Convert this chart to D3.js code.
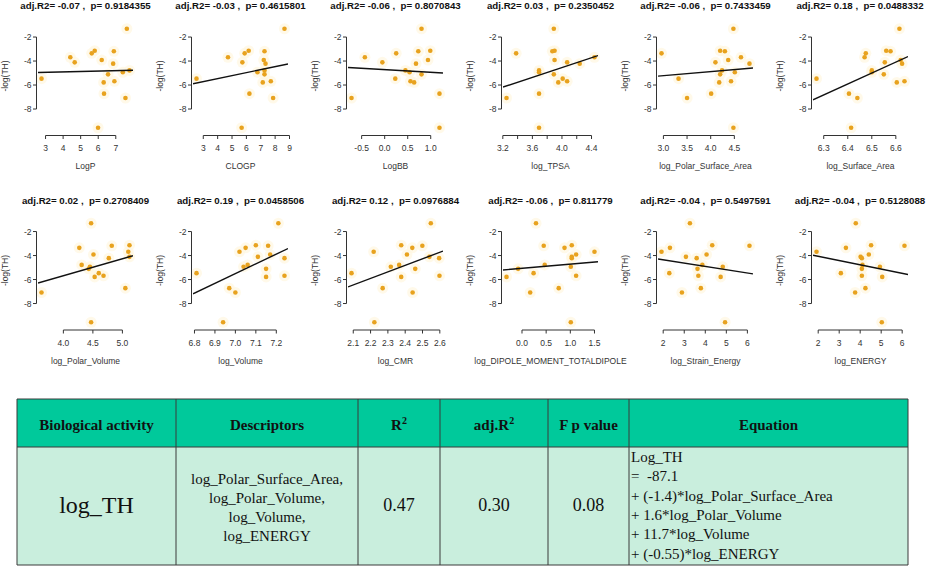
<!DOCTYPE html>
<html><head><meta charset="utf-8">
<script src="https://cdn.jsdelivr.net/npm/d3@7"></script>
<style>body{margin:0;background:#fff;} svg{display:block;}</style>
</head><body>
<script>
// ---------------- DATA ----------------
const logTH = [-1.31,-3.14,-3.19,-3.36,-3.69,-3.92,-4.11,-4.22,-4.78,-4.94,-5.11,-5.47,-5.69,-5.78,-6.72,-7.08,-9.56];
const LogP = [7.63,5.80,6.89,5.63,4.41,6.20,4.66,6.85,7.78,7.40,6.56,2.77,6.92,6.31,6.33,7.55,5.99];
const CLOGP = [8.65,6.16,7.26,5.88,4.72,7.21,5.72,7.33,7.26,6.77,7.26,2.53,7.70,7.14,6.21,7.86,5.67];
const LogBB = [0.80,0.99,0.73,0.25,-0.43,0.94,-0.05,0.68,0.45,0.54,0.80,0.23,0.56,0.64,1.19,-0.72,1.19];
const log_TPSA = [3.89,3.90,3.87,3.38,4.44,3.90,4.07,4.24,3.69,3.69,3.89,4.01,4.07,3.95,3.69,3.25,3.69];
const log_PSA = [4.48,4.20,4.30,2.96,4.64,4.37,4.10,4.82,4.24,4.51,4.20,3.32,4.43,4.18,4.01,3.50,4.48];
const log_SA = [6.615,6.56,6.578,6.475,6.47,6.62,6.554,6.626,6.50,6.50,6.55,6.27,6.636,6.604,6.405,6.44,6.414];
const log_PV = [4.47,5.12,4.82,4.27,5.10,4.51,5.12,4.77,4.31,4.45,4.43,4.60,4.68,4.53,5.05,3.63,4.47];
const log_Vol = [7.21,7.10,7.16,7.05,7.02,7.17,7.11,7.24,7.06,7.04,7.15,6.81,7.24,7.15,6.97,7.00,6.94];
const log_CMR = [2.548,2.377,2.499,2.441,2.218,2.41,2.54,2.596,2.365,2.317,2.458,2.09,2.598,2.377,2.27,2.443,2.222];
const log_Dip = [0.29,1.03,0.45,0.88,1.50,1.12,1.03,1.03,0.47,1.01,-0.08,0.24,1.12,-0.32,0.76,0.17,1.01];
const log_Strain = [3.27,4.33,6.10,2.32,1.92,4.06,3.08,3.59,3.86,4.83,3.63,2.29,3.67,4.73,3.79,2.89,4.94];
const log_Energy = [3.79,4.52,6.11,3.32,1.92,4.41,4.02,4.08,4.11,4.94,4.08,3.08,4.08,5.05,4.25,3.76,5.03];

const descriptorNames = ["LogP","CLOGP","LogBB","log_TPSA","log_Polar_Surface_Area","log_Surface_Area",
  "log_Polar_Volume","log_Volume","log_CMR","log_DIPOLE_MOMENT_TOTALDIPOLE","log_Strain_Energy","log_ENERGY"];
const descriptorValues = [LogP,CLOGP,LogBB,log_TPSA,log_PSA,log_SA,log_PV,log_Vol,log_CMR,log_Dip,log_Strain,log_Energy];
const adjR2 = ["-0.07","-0.03","-0.06","0.03","-0.06","0.18","0.02","0.19","0.12","-0.06","-0.04","-0.04"];
const pValues = ["0.9184355","0.4615801","0.8070843","0.2350452","0.7433459","0.0488332","0.2708409","0.0458506","0.0976884","0.811779","0.5497591","0.5128088"];
const xTicks = [[3,4,5,6,7],[3,4,5,6,7,8,9],[-0.5,0,0.5,1.0],[3.2,3.4,3.6,3.8,4.0,4.2,4.4],[3.0,3.5,4.0,4.5],[6.3,6.4,6.5,6.6],
  [4.0,4.5,5.0],[6.8,6.9,7.0,7.1,7.2],[2.1,2.2,2.3,2.4,2.5,2.6],[0.0,0.5,1.0,1.5],[2,3,4,5,6],[2,3,4,5,6]];
const xTickLabels = [["3","4","5","6","7"],["3","4","5","6","7","8","9"],["-0.5","0.0","0.5","1.0"],["3.2","","3.6","","4.0","","4.4"],
  ["3.0","3.5","4.0","4.5"],["6.3","6.4","6.5","6.6"],["4.0","4.5","5.0"],["6.8","6.9","7.0","7.1","7.2"],
  ["2.1","2.2","2.3","2.4","2.5","2.6"],["0.0","0.5","1.0","1.5"],["2","3","4","5","6"],["2","3","4","5","6"]];
const yTicks = [-2,-4,-6,-8];
const yLabel = "-log(TH)";

// table data
const tableHeaders = ["Biological activity","Descriptors","R|2","adj.R|2","F p value","Equation"];
const activity = "log_TH";
const descriptorsUsed = ["log_Polar_Surface_Area,","log_Polar_Volume,","log_Volume,","log_ENERGY"];
const statValues = ["0.47","0.30","0.08"];
const equationLines = ["Log_TH","=  -87.1","+ (-1.4)*log_Polar_Surface_Area","+ 1.6*log_Polar_Volume","+ 11.7*log_Volume","+ (-0.55)*log_ENERGY"];

// ---------------- DRAW ----------------
const W = 926, H = 575;
const svg = d3.select("body").append("svg").attr("width",W).attr("height",H);
const sans = "'Liberation Sans', Arial, Helvetica, sans-serif";
const serif = "'Liberation Serif', 'Times New Roman', serif";

const colStep = 155, rowStep = 194.5, regionW = 95;
const yExt = d3.extent(logTH), yPad = (yExt[1]-yExt[0])*0.04;

descriptorNames.forEach((name,i)=>{
  const c = i%6, r = Math.floor(i/6);
  const left = 38 + colStep*c, top = rowStep*r;
  const xs = descriptorValues[i];
  const xe = d3.extent(xs), xp = (xe[1]-xe[0])*0.04;
  const x = d3.scaleLinear().domain([xe[0]-xp, xe[1]+xp]).range([left, left+regionW]);
  const y = d3.scaleLinear().domain([yExt[0]-yPad, yExt[1]+yPad]).range([top+131.7, top+24.8]);
  const g = svg.append("g");
  const clipId = "clip"+i;
  svg.append("clipPath").attr("id",clipId).append("rect")
    .attr("x",left).attr("y",top+24.8).attr("width",regionW).attr("height",131.7-24.8);

  // title
  g.append("text").attr("x",Math.min(left+regionW/2, W-66)).attr("y",top+9)
    .attr("text-anchor","middle").attr("font-family",sans).attr("font-weight","bold")
    .attr("font-size",9.7).attr("fill","#111").style("white-space","pre")
    .text("adj.R2= "+adjR2[i]+" ,  p= "+pValues[i]);

  // halos + points
  const pts = xs.map((v,k)=>[v,logTH[k]]);
  g.selectAll("circle.h").data(pts).join("circle").attr("class","h")
    .attr("cx",d=>x(d[0])).attr("cy",d=>y(d[1])).attr("r",5.5).attr("fill","#fff6e0").attr("opacity",0.7);
  g.selectAll("circle.p").data(pts).join("circle").attr("class","p")
    .attr("cx",d=>x(d[0])).attr("cy",d=>y(d[1])).attr("r",2.3).attr("fill","#e8a21e");

  // regression line (OLS)
  const mx = d3.mean(xs), my = d3.mean(logTH);
  const sxy = d3.sum(xs.map((v,k)=>(v-mx)*(logTH[k]-my)));
  const sxx = d3.sum(xs.map(v=>(v-mx)*(v-mx)));
  const b = sxy/sxx, a = my - b*mx;
  const d0 = x.domain();
  g.append("line").attr("clip-path","url(#"+clipId+")")
    .attr("x1",x(d0[0])).attr("y1",y(a+b*d0[0])).attr("x2",x(d0[1])).attr("y2",y(a+b*d0[1]))
    .attr("stroke","#111").attr("stroke-width",1.4);

  // x axis
  const tk = xTicks[i];
  const axY = top+135.5;
  g.append("line").attr("x1",x(tk[0])).attr("x2",x(tk[tk.length-1])).attr("y1",axY).attr("y2",axY)
    .attr("stroke","#333").attr("stroke-width",1);
  g.selectAll("line.xt").data(tk).join("line").attr("class","xt")
    .attr("x1",d=>x(d)).attr("x2",d=>x(d)).attr("y1",axY).attr("y2",axY+3.5).attr("stroke","#333");
  g.selectAll("text.xl").data(tk).join("text").attr("class","xl")
    .attr("x",d=>x(d)).attr("y",top+151).attr("text-anchor","middle")
    .attr("font-family",sans).attr("font-size",8.5).attr("fill","#333")
    .text((d,k)=>xTickLabels[i][k]);
  g.append("text").attr("x",left+regionW/2).attr("y",top+169).attr("text-anchor","middle")
    .attr("font-family",sans).attr("font-size",8.5).attr("fill","#333").text(name);

  // y axis
  const axX = left-1.5;
  g.append("line").attr("x1",axX).attr("x2",axX).attr("y1",y(yTicks[0])).attr("y2",y(yTicks[yTicks.length-1]))
    .attr("stroke","#333");
  g.selectAll("line.yt").data(yTicks).join("line").attr("class","yt")
    .attr("x1",axX-3.5).attr("x2",axX).attr("y1",d=>y(d)).attr("y2",d=>y(d)).attr("stroke","#333");
  g.selectAll("text.yl").data(yTicks).join("text").attr("class","yl")
    .attr("x",axX-5).attr("y",d=>y(d)+3).attr("text-anchor","end")
    .attr("font-family",sans).attr("font-size",8.5).attr("fill","#333").text(d=>d);
  g.append("text").attr("transform","translate("+(left-30)+","+(top+76)+") rotate(-90)")
    .attr("text-anchor","middle").attr("font-family",sans).attr("font-size",8.5).attr("fill","#333").text(yLabel);
});

// ---------------- TABLE ----------------
const colEdges = [17,176,358,440,548,629,908];
const tTop = 399, tMid = 447, tBot = 565;
const tg = svg.append("g");
tg.append("rect").attr("x",colEdges[0]).attr("y",tTop).attr("width",colEdges[6]-colEdges[0]).attr("height",tMid-tTop).attr("fill","#00c99b");
tg.append("rect").attr("x",colEdges[0]).attr("y",tMid).attr("width",colEdges[6]-colEdges[0]).attr("height",tBot-tMid).attr("fill","#c9eedd");
[tTop,tMid,tBot].forEach(yy=>tg.append("line").attr("x1",colEdges[0]).attr("x2",colEdges[6]).attr("y1",yy).attr("y2",yy).attr("stroke","#3a3a3a").attr("stroke-width",1));
colEdges.forEach(xx=>tg.append("line").attr("x1",xx).attr("x2",xx).attr("y1",tTop).attr("y2",tBot).attr("stroke","#3a3a3a").attr("stroke-width",1));
const colCenter = k => (colEdges[k]+colEdges[k+1])/2;

tableHeaders.forEach((h,k)=>{
  const parts = h.split("|");
  const t = tg.append("text").attr("x",colCenter(k)).attr("y",430).attr("text-anchor","middle")
    .attr("font-family",serif).attr("font-weight","bold").attr("font-size",15).attr("fill","#111");
  t.append("tspan").text(parts[0]);
  if(parts[1]) t.append("tspan").attr("font-size",10).attr("dy",-6).text(parts[1]);
});
tg.append("text").attr("x",colCenter(0)).attr("y",513).attr("text-anchor","middle")
  .attr("font-family",serif).attr("font-size",24).attr("fill","#111").text(activity);
tg.selectAll("text.desc").data(descriptorsUsed).join("text").attr("class","desc")
  .attr("x",colCenter(1)).attr("y",(d,k)=>484+k*19).attr("text-anchor","middle")
  .attr("font-family",serif).attr("font-size",15).attr("fill","#111").text(d=>d);
tg.selectAll("text.stat").data(statValues).join("text").attr("class","stat")
  .attr("x",(d,k)=>colCenter(k+2)).attr("y",511).attr("text-anchor","middle")
  .attr("font-family",serif).attr("font-size",18).attr("fill","#111").text(d=>d);
tg.selectAll("text.eq").data(equationLines).join("text").attr("class","eq")
  .attr("x",631).attr("y",(d,k)=>462+k*19.3).style("white-space","pre")
  .attr("font-family",serif).attr("font-size",15).attr("fill","#111").text(d=>d);
</script>
</body></html>
